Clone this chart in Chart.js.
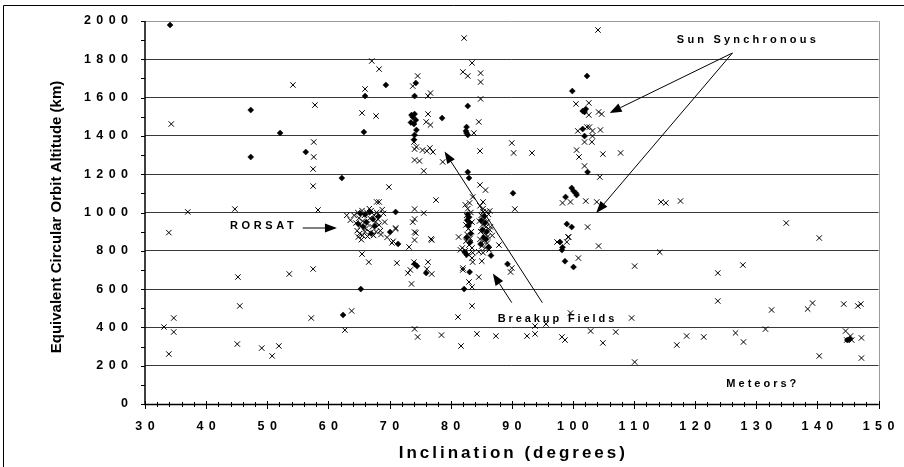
<!DOCTYPE html>
<html>
<head>
<meta charset="utf-8">
<script src="https://cdn.jsdelivr.net/npm/chart.js@4/dist/chart.umd.min.js"></script>
<style>
html,body{margin:0;padding:0;background:#fff;}
#wrap{width:904px;height:467px;position:relative;}
</style>
</head>
<body>
<div id="wrap"><canvas id="c" width="904" height="467"></canvas></div>
<script>
// ---- Data (inclination in degrees, altitude in km) ----
const xTickValues = [30,40,50,60,70,80,90,100,110,120,130,140,150];
const yTickValues = [0,200,400,600,800,1000,1200,1400,1600,1800,2000];

// "x" marker series
const crossPoints = [
 [33.9,895],[34.3,1462],[37.0,1003],[44.7,1018],[45.2,663],[45.5,512],[53.6,679],
 [33.1,402],[34.7,449],[34.7,376],[33.9,261],[45.1,313],[49.1,292],[50.8,251],[51.9,303],
 [57.2,449],[54.2,1666],[57.8,1561],[57.6,1368],[57.6,1290],[57.5,1227],[57.5,1138],[58.3,1013],
 [57.5,705],[63.8,486],[62.7,386],[65.5,783],[66.6,741],[67.1,1791],[68.3,1749],[66.0,1645],
 [65.5,1520],[67.8,1504],[74.6,1713],[73.8,1660],[76.3,1608],[76.7,1624],[76.3,1514],[76.0,1473],
 [76.7,1457],[74.0,1368],[74.4,1342],[74.1,1331],[75.4,1326],[76.6,1337],[77.1,1316],[76.1,1321],
 [74.1,1274],[74.9,1269],[75.6,1217],[78.7,1264],[82.2,1911],[83.5,1781],[82.0,1734],[82.8,1713],
 [84.9,1728],[84.9,1681],[84.9,1593],[84.6,1473],[83.8,1415],[84.8,1321],[84.8,1144],[85.7,1117],
 [83.6,1081],[83.1,1050],[85.3,1055],[77.6,1065],[69.9,1133],[74.1,1018],[75.6,997],[67.9,1055],
 [68.3,1055],[90.5,1018],[90.0,1363],[90.3,1311],[93.3,1311],
 [104.1,1953],[100.5,1567],[102.6,1572],[102.6,1509],[104.2,1525],[104.7,1514],[100.8,1426],
 [102.3,1446],[102.7,1446],[103.2,1426],[104.5,1431],[103.2,1399],[101.9,1368],[103.1,1368],
 [100.6,1326],[101.0,1290],[104.9,1305],[107.8,1311],[101.9,1243],[104.4,1185],
 [98.3,1050],[99.6,1055],[102.1,1060],[103.9,1055],[114.4,1055],[115.2,1050],[117.6,1060],
 [102.4,924],[134.9,945],[140.3,867],[99.3,872],[99.0,846],[97.4,846],[100.9,762],[104.2,825],
 [110.1,720],[114.2,793],[123.7,684],[127.8,726],[123.7,538],[132.5,491],[138.4,496],[139.2,527],
 [144.3,522],[146.6,512],[147.1,522],[109.6,449],[102.9,381],[104.9,319],[107.0,376],[110.1,219],
 [117.0,308],[118.6,355],[121.4,350],[126.6,371],[127.9,324],[131.5,391],[140.3,251],[144.6,381],
 [145.4,355],[144.8,334],[145.6,334],[147.2,345],[147.2,240],
 [74.1,392],[74.6,350],[78.5,360],[81.2,454],[81.7,303],[83.5,512],[84.3,366],[87.4,355],
 [92.5,355],[93.8,366],[93.8,407],[95.6,418],[98.2,350],[98.7,334],[99.6,475],
 [83.0,637],[83.5,611],[82.0,700],[84.6,663],[73.0,684],[73.4,700],[73.6,627],[74.0,741],
 [76.3,741],[76.9,679],[76.1,705],[71.2,736],[70.4,841],[73.2,820],[74.1,856],[76.9,856],
 [74.3,893],[81.3,872],[87.9,830],[85.1,746],[89.8,689],[99.2,872],[83.5,762],[83.6,741],
 [82.0,710],[90.0,710],[71.0,914],[70.6,850],[73.8,950],[74.1,966],[74.1,898],[76.8,862],
 [71.0,919],[85.3,1003],[86.4,1008],
 // RORSAT cluster
 [63.6,960],[64.2,985],[64.5,945],[64.8,1000],[65.0,970],[65.3,930],[65.5,1010],[65.6,955],
 [65.9,985],[66.1,915],[66.3,1000],[66.4,940],[66.8,970],[67.0,1010],[67.2,925],[67.5,985],
 [67.7,950],[67.9,1000],[68.1,965],[68.3,935],[68.5,905],[64.7,905],[65.1,890],[65.6,880],
 [66.0,900],[66.4,875],[66.9,895],[67.4,880],[67.8,900],[68.6,885],[69.2,950],[69.6,870],
 [64.9,872],[65.4,858],[69.0,995],[63.0,985],[66.7,1020],[68.8,1015],
 // Breakup cluster
 [82.4,1040],[82.8,1020],[83.3,1000],[82.6,985],[83.0,965],[83.5,950],[82.5,935],[82.9,915],
 [83.4,900],[82.7,885],[83.2,865],[82.5,850],[83.0,830],[83.5,815],[82.4,800],[82.9,780],
 [83.6,790],[81.9,815],[81.6,805],
 [84.8,1035],[85.3,1020],[85.9,1005],[86.2,990],[85.0,985],[85.6,970],[84.7,955],[86.0,950],
 [85.2,935],[85.8,925],[86.4,910],[84.9,900],[85.5,890],[86.1,875],[84.8,860],[85.4,850],
 [86.0,840],[85.1,825],[85.7,815],[86.3,805],[84.6,795],[85.3,790],[86.5,925],[86.8,880]
];

// filled diamond marker series
const diamondPoints = [
 [34.1,1979],[47.3,1535],[52.1,1415],[47.3,1290],[56.3,1316],[62.4,465],[65.3,600],
 [74.1,731],[74.5,720],[76.0,684],[71.4,836],[70.1,898],[82.2,600],[83.1,689],[86.6,775],
 [89.3,731],[97.9,846],[98.3,818],[98.2,804],[98.7,746],[100.1,715],[99.0,940],[99.8,924],
 [62.2,1180],[69.4,1666],[66.0,1608],[65.8,1420],[74.3,1676],[74.1,1608],[73.6,1509],
 [74.1,1514],[73.8,1499],[74.3,1483],[73.5,1470],[78.6,1493],[74.4,1431],[74.0,1462],
 [74.1,1405],[74.0,1380],[82.8,1556],[82.6,1446],[82.5,1426],[82.8,1405],[82.6,1415],
 [82.8,1211],[83.0,1180],[71.0,1003],[90.2,1101],[102.3,1713],[99.9,1634],[101.6,1530],
 [102.1,1540],[101.9,1525],[101.6,1436],[101.9,1399],[102.4,1211],[99.8,1128],[100.1,1112],
 [100.5,1100],[100.6,1091],[98.8,1081],[144.9,334],[145.3,340],
 [65.2,995],[66.0,990],[66.8,1003],[67.3,965],[66.2,950],[65.7,925],[67.6,930],[64.9,940],
 [67.0,890],[68.2,980],
 [82.8,990],[83.0,975],[82.7,960],[83.1,945],[82.9,930],[83.3,890],[82.6,870],[82.3,794],
 [82.6,780],[83.2,845],
 [85.0,960],[85.6,945],[85.2,910],[85.9,900],[85.4,870],[84.9,835],[85.8,860],[85.5,980],[86.2,820]
];

// Annotations (data coordinates)
const annotationTexts = [
 {text:'Sun Synchronous', x:117.0, y:1901, spacing:3.2},
 {text:'RORSAT', x:43.9, y:929, spacing:3.6},
 {text:'Breakup Fields', x:87.7, y:444, spacing:2.9},
 {text:'Meteors?', x:125.1, y:104, spacing:3.0}
];
const annotationArrows = [
 {from:[126.1,1833], to:[106.0,1520]},
 {from:[126.1,1833], to:[103.8,997]},
 {from:[55.8,919], to:[61.4,919]},
 {from:[90.0,529], to:[86.9,682]},
 {from:[95.0,529], to:[79.0,1318]}
];

const FONT = "'Liberation Sans', Arial, Helvetica, sans-serif";
const toXY = arr => arr.map(p => ({x:p[0], y:p[1]}));

const decor = {
  id:'decor',
  beforeDraw(chart){
    chart.ctx.letterSpacing = '5.4px';
  },
  beforeDatasetsDraw(chart){
    chart.ctx.letterSpacing = '0px';
  },
  afterDraw(chart){
    const ctx = chart.ctx, xs = chart.scales.x, ys = chart.scales.y, a = chart.chartArea;
    ctx.save();
    ctx.letterSpacing = '0px';
    // outer frame
    ctx.strokeStyle = '#000'; ctx.lineWidth = 1;
    ctx.beginPath(); ctx.moveTo(3.5, 467); ctx.lineTo(3.5, 5.5); ctx.lineTo(904, 5.5); ctx.stroke();
    // right plot border (gray)
    ctx.strokeStyle = '#9a9a9a';
    ctx.beginPath(); ctx.moveTo(Math.round(a.right)+0.5, a.top); ctx.lineTo(Math.round(a.right)+0.5, a.bottom); ctx.stroke();
    // axis lines
    ctx.strokeStyle = '#000'; ctx.lineWidth = 1.5;
    ctx.beginPath(); ctx.moveTo(a.left, a.top); ctx.lineTo(a.left, a.bottom+0.5); ctx.lineTo(a.right, a.bottom+0.5); ctx.stroke();
    // tick marks
    ctx.lineWidth = 1;
    ctx.beginPath();
    for (let v = 0; v <= 2000; v += 100) {
      const py = Math.round(ys.getPixelForValue(v)) + 0.5;
      ctx.moveTo(a.left - 4, py); ctx.lineTo(a.left, py);
    }
    for (let v = 30; v <= 150; v += 2) {
      const px = Math.round(xs.getPixelForValue(v)) + 0.5;
      const major = (v % 10 === 0);
      ctx.moveTo(px, a.bottom - (major ? 3 : 2)); ctx.lineTo(px, a.bottom + (major ? 5 : 3));
    }
    ctx.stroke();
    // axis titles
    ctx.fillStyle = '#000';
    ctx.font = 'bold 15px ' + FONT;
    ctx.textAlign = 'center'; ctx.textBaseline = 'middle';
    ctx.save();
    ctx.translate(57, 217); ctx.rotate(-Math.PI/2);
    ctx.fillText('Equivalent Circular Orbit Altitude (km)', 0, 0);
    ctx.restore();
    ctx.font = 'bold 17px ' + FONT;
    ctx.letterSpacing = '3px';
    ctx.textAlign = 'left';
    const t = 'Inclination (degrees)';
    const w = ctx.measureText(t).width - 3;
    ctx.fillText(t, (a.left + a.right)/2 - w/2, 453);
    // annotation texts
    ctx.font = 'bold 11px ' + FONT;
    ctx.textBaseline = 'middle'; ctx.textAlign = 'left';
    annotationTexts.forEach(an => {
      ctx.letterSpacing = an.spacing + 'px';
      ctx.fillText(an.text, xs.getPixelForValue(an.x), ys.getPixelForValue(an.y));
    });
    ctx.letterSpacing = '0px';
    // arrows
    ctx.strokeStyle = '#000'; ctx.fillStyle = '#000'; ctx.lineWidth = 1;
    annotationArrows.forEach(ar => {
      const x1 = xs.getPixelForValue(ar.from[0]), y1 = ys.getPixelForValue(ar.from[1]);
      const x2 = xs.getPixelForValue(ar.to[0]), y2 = ys.getPixelForValue(ar.to[1]);
      const ang = Math.atan2(y2 - y1, x2 - x1);
      const L = 12, W = 4.5;
      const bx = x2 - L*Math.cos(ang), by = y2 - L*Math.sin(ang);
      ctx.beginPath(); ctx.moveTo(x1, y1); ctx.lineTo(bx, by); ctx.stroke();
      ctx.beginPath();
      ctx.moveTo(x2, y2);
      ctx.lineTo(bx + W*Math.sin(ang), by - W*Math.cos(ang));
      ctx.lineTo(bx - W*Math.sin(ang), by + W*Math.cos(ang));
      ctx.closePath(); ctx.fill();
    });
    ctx.restore();
  }
};

new Chart(document.getElementById('c'), {
  type:'scatter',
  data:{
    datasets:[
      {label:'Objects', data:toXY(crossPoints), pointStyle:'crossRot', pointRadius:3.8,
       borderColor:'#000', backgroundColor:'#000', borderWidth:1, pointHoverRadius:3.8},
      {label:'Diamonds', data:toXY(diamondPoints), pointStyle:'rectRot', pointRadius:3,
       borderColor:'#000', backgroundColor:'#000', borderWidth:0.5, pointHoverRadius:3}
    ]
  },
  options:{
    responsive:false, animation:false, devicePixelRatio:1,
    layout:{padding:{left:0, right:25, top:21, bottom:0}},
    plugins:{legend:{display:false}, tooltip:{enabled:false}},
    scales:{
      x:{type:'linear', min:30, max:150,
        afterBuildTicks(s){ s.ticks = xTickValues.map(v => ({value:v})); },
        ticks:{color:'#000', font:{family:FONT, size:12.5, weight:'bold'}, padding:15, labelOffset:2.7, maxRotation:0, autoSkip:false,
               callback:v => String(v)},
        grid:{display:false, drawTicks:false},
        border:{display:false},
        afterFit(s){ s.height = 63; }
      },
      y:{type:'linear', min:0, max:2000,
        afterBuildTicks(s){ s.ticks = yTickValues.map(v => ({value:v})); },
        ticks:{color:'#000', font:{family:FONT, size:12.5, weight:'bold'}, padding:11.6, autoSkip:false,
               callback:v => String(v)},
        grid:{drawTicks:false, lineWidth:1, color:ctx => (ctx.tick && ctx.tick.value === 2000) ? '#9a9a9a' : '#383838'},
        border:{display:false},
        afterFit(s){ s.width = 145; }
      }
    }
  },
  plugins:[decor]
});
</script>
</body>
</html>
